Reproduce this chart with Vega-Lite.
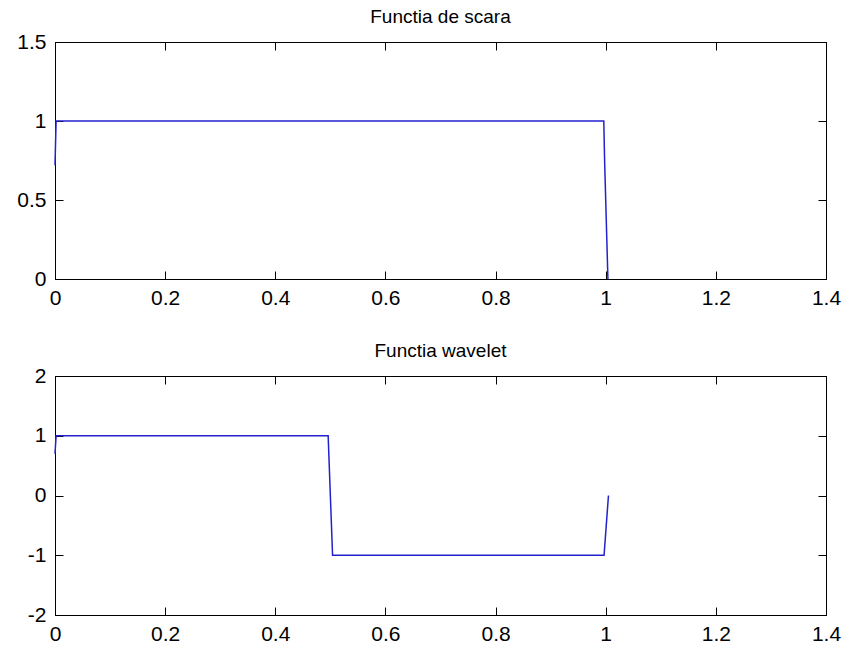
{
  "$schema": "https://vega.github.io/schema/vega-lite/v6.json",
  "padding": {"left": 16, "top": 7, "right": 5, "bottom": 0},
  "background": "white",
  "datasets": {
    "scara": [
      {"x": 0, "y": 0.72},
      {"x": 0.002, "y": 1},
      {"x": 0.9965, "y": 1},
      {"x": 0.998, "y": 0.75},
      {"x": 1.0, "y": 0.5},
      {"x": 1.002, "y": 0.25},
      {"x": 1.004, "y": 0}
    ],
    "wavelet": [
      {"x": 0, "y": 0.7},
      {"x": 0.002, "y": 1},
      {"x": 0.496, "y": 1},
      {"x": 0.498, "y": 0.5},
      {"x": 0.5, "y": 0},
      {"x": 0.502, "y": -0.5},
      {"x": 0.504, "y": -1},
      {"x": 0.997, "y": -1},
      {"x": 0.999, "y": -0.75},
      {"x": 1.001, "y": -0.5},
      {"x": 1.003, "y": -0.25},
      {"x": 1.005, "y": 0}
    ]
  },
  "config": {
    "font": "Liberation Sans",
    "view": {"stroke": "black", "strokeWidth": 1},
    "axis": {
      "grid": false,
      "domainColor": "black",
      "tickColor": "black",
      "labelColor": "black",
      "labelFont": "Liberation Sans",
      "labelFontSize": 21,
      "labelFlush": false,
      "labelOverlap": false,
      "tickSize": -8,
      "format": "~g",
      "labelExpr": "replace(datum.label, '−', '-')",
      "title": null
    },
    "axisX": {"labelPadding": 16},
    "axisY": {"labelPadding": 17},
    "title": {"font": "Liberation Sans", "fontSize": 19, "fontWeight": "normal", "color": "black", "offset": 0, "frame": "group", "anchor": "middle"}
  },
  "spacing": 32,
  "vconcat": [
    {
      "title": "Functia de scara",
      "width": 771,
      "height": 237,
      "data": {"name": "scara"},
      "resolve": {"axis": {"x": "independent", "y": "independent"}},
      "layer": [
        {
          "mark": {"type": "line", "color": "#2222cc", "strokeWidth": 1.5, "interpolate": "linear"},
          "encoding": {
            "x": {"field": "x", "type": "quantitative", "scale": {"domain": [0, 1.4], "nice": false, "zero": false},
                  "axis": {"orient": "bottom", "values": [0, 0.2, 0.4, 0.6, 0.8, 1, 1.2, 1.4]}},
            "y": {"field": "y", "type": "quantitative", "scale": {"domain": [0, 1.5], "nice": false},
                  "axis": {"orient": "left", "values": [0, 0.5, 1, 1.5]}}
          }
        },
        {
          "mark": {"type": "line", "opacity": 0},
          "encoding": {
            "x": {"field": "x", "type": "quantitative",
                  "axis": {"orient": "top", "labels": false, "values": [0, 0.2, 0.4, 0.6, 0.8, 1, 1.2, 1.4]}},
            "y": {"field": "y", "type": "quantitative",
                  "axis": {"orient": "right", "labels": false, "values": [0, 0.5, 1, 1.5]}}
          }
        }
      ]
    },
    {
      "title": "Functia wavelet",
      "width": 771,
      "height": 239,
      "data": {"name": "wavelet"},
      "resolve": {"axis": {"x": "independent", "y": "independent"}},
      "layer": [
        {
          "mark": {"type": "line", "color": "#2222cc", "strokeWidth": 1.5, "interpolate": "linear"},
          "encoding": {
            "x": {"field": "x", "type": "quantitative", "scale": {"domain": [0, 1.4], "nice": false, "zero": false},
                  "axis": {"orient": "bottom", "values": [0, 0.2, 0.4, 0.6, 0.8, 1, 1.2, 1.4]}},
            "y": {"field": "y", "type": "quantitative", "scale": {"domain": [-2, 2], "nice": false},
                  "axis": {"orient": "left", "values": [-2, -1, 0, 1, 2]}}
          }
        },
        {
          "mark": {"type": "line", "opacity": 0},
          "encoding": {
            "x": {"field": "x", "type": "quantitative",
                  "axis": {"orient": "top", "labels": false, "values": [0, 0.2, 0.4, 0.6, 0.8, 1, 1.2, 1.4]}},
            "y": {"field": "y", "type": "quantitative",
                  "axis": {"orient": "right", "labels": false, "values": [-2, -1, 0, 1, 2]}}
          }
        }
      ]
    }
  ]
}
